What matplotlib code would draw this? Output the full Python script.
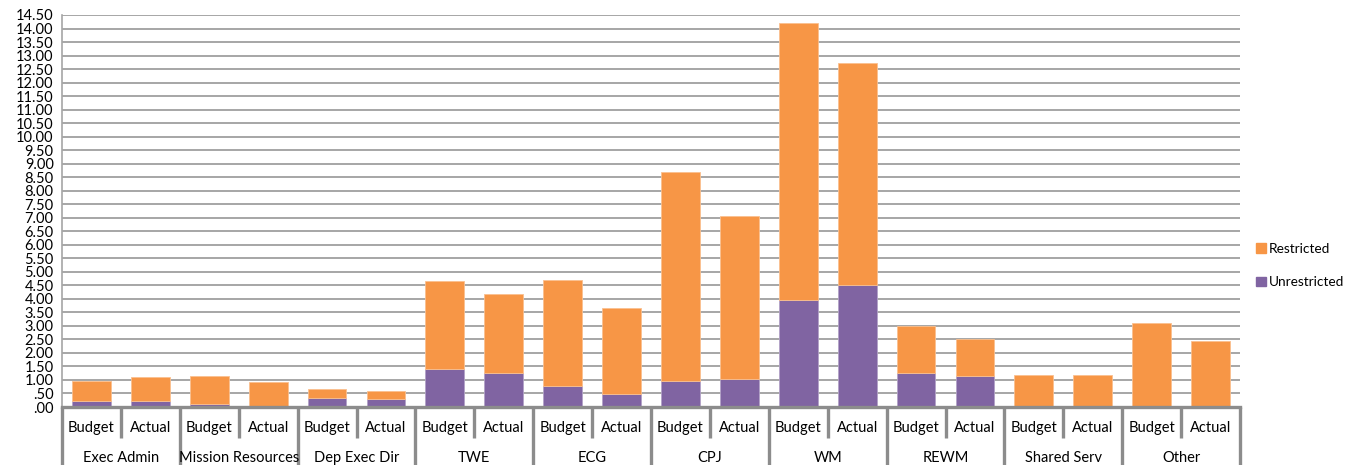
import matplotlib
matplotlib.use("Agg")
import matplotlib.pyplot as plt
import matplotlib.patches as mpatches
import matplotlib.transforms as mtransforms
import numpy as np

# Datos
groups = ["Exec Admin", "Mission Resources", "Dep Exec Dir", "TWE", "ECG",
          "CPJ", "WM", "REWM", "Shared Serv", "Other"]
sub_labels = ["Budget", "Actual"]

# totales (Unrestricted + Restricted) por grupo: [Budget, Actual]
totals = [[0.97, 1.12], [1.15, 0.92], [0.67, 0.58], [4.66, 4.19], [4.68, 3.67],
          [8.71, 7.07], [14.20, 12.71], [3.00, 2.51], [1.19, 1.18], [3.12, 2.43]]
unrestricted = [[0.23, 0.23], [0.12, 0.02], [0.35, 0.31], [1.40, 1.27], [0.78, 0.49],
                [0.97, 1.05], [3.97, 4.51], [1.26, 1.15], [0.0, 0.0], [0.0, 0.0]]

unres = np.array(unrestricted).ravel()
restr = np.array(totals).ravel() - unres

ORANGE = "#F79646"
PURPLE = "#8064A2"
GRID = "#a6a6a6"
AXIS = "#8c8c8c"

plt.rcParams['font.family'] = ['Lato', 'DejaVu Sans']

fig = plt.figure(figsize=(13.48, 4.65), dpi=100)
ax = fig.add_axes([62 / 1348, 58 / 465, 1178 / 1348, 392 / 465])

x = np.arange(len(unres))
w = 0.66
ax.bar(x, unres, w, color=PURPLE, edgecolor="#b3a2c7", linewidth=0.6, zorder=3)
ax.bar(x, restr, w, bottom=unres, color=ORANGE, edgecolor="#fac090", linewidth=0.6, zorder=3)

ax.set_xlim(-0.5, len(unres) - 0.5)
ax.set_ylim(0, 14.5)
yt = np.arange(0, 14.51, 0.5)
ax.set_yticks(yt)
ax.set_yticklabels([f"{v:.2f}".lstrip("0") if v < 1 else f"{v:.2f}" for v in yt], fontsize=10.5)
ax.tick_params(axis="y", length=0, pad=6)
ax.set_xticks([])
ax.yaxis.grid(True, color=GRID, linewidth=1.4, zorder=0)

for s in ["top", "right"]:
    ax.spines[s].set_visible(False)
ax.spines["left"].set_color(GRID)
ax.spines["left"].set_linewidth(1.2)
ax.spines["bottom"].set_color(AXIS)
ax.spines["bottom"].set_linewidth(2.4)
ax.spines["bottom"].set_zorder(5)

# eje de categorias en dos niveles
trans = mtransforms.blended_transform_factory(ax.transData, ax.transAxes)
bottom = -58 / 392
mid = -31 / 392
for i in range(len(groups) + 1):
    ax.plot([i * 2 - 0.5] * 2, [0, bottom], transform=trans, color=AXIS,
            linewidth=2.4, clip_on=False, solid_capstyle="butt")
for i, g in enumerate(groups):
    ax.plot([i * 2 + 0.5] * 2, [0, mid], transform=trans, color=AXIS,
            linewidth=2.4, clip_on=False, solid_capstyle="butt")
    for j, s in enumerate(sub_labels):
        ax.text(i * 2 + j, -21 / 392, s, transform=trans, ha="center", va="center",
                fontsize=10.5)
    ax.text(i * 2 + 0.5, -51 / 392, g, transform=trans, ha="center", va="center",
            fontsize=10.5)

handles = [mpatches.Patch(color=ORANGE, label="Restricted"),
           mpatches.Patch(color=PURPLE, label="Unrestricted")]
fig.legend(handles=handles, loc="center left", bbox_to_anchor=(1256 / 1348, (465 - 265.5) / 465),
           frameon=False, fontsize=9.8, handlelength=0.7, handleheight=0.7,
           handletextpad=0.25, labelspacing=1.6, borderpad=0, borderaxespad=0)

fig.savefig("out.png", dpi=100)
